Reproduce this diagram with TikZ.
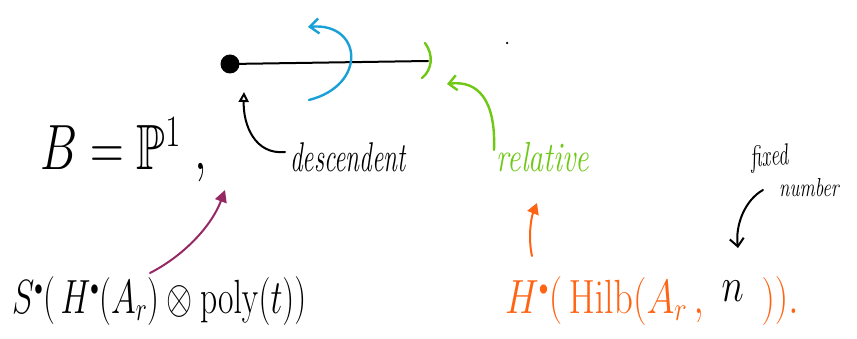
\RequirePackage{fix-cm}
\documentclass[tikz,border=0pt]{standalone}
\usepackage{amssymb}
\usepackage{graphicx}
\usetikzlibrary{arrows.meta}
\definecolor{hblue}{RGB}{25,160,215}
\definecolor{hgreen}{RGB}{110,200,20}
\definecolor{horange}{RGB}{255,100,20}
\definecolor{hpurple}{RGB}{150,40,100}
\newcommand{\hdot}{{\scriptscriptstyle\bullet}}
\tikzset{
  pen/.style={line width=2pt, line cap=round},
  formula/.style={inner sep=0pt},
}
\begin{document}
\begin{tikzpicture}[x=1pt,y=-1pt]
\useasboundingbox (0,0) rectangle (857,339);
% line with dot
\node (dot) [circle, fill=black, inner sep=0pt, minimum size=19pt] at (230,64) {};
\coordinate (lineEnd) at (428,61);
\draw[pen] (dot.center) -- (lineEnd);
% blue arrow
\coordinate (bS) at (309,100);
\coordinate (bE) at (308,27);
\draw[pen, hblue, line width=2.4pt, -{Straight Barb[length=9pt,width=15pt]}] (bS) .. controls (368,85) and (362,22) .. (bE);
% green bracket
\coordinate (gb1) at (425,43);
\coordinate (gb2) at (422,78);
\draw[pen, hgreen, line width=2.4pt] (gb1) .. controls (434,55) and (432,70) .. (gb2);
% small dot
\node (speck) [circle, fill=black, inner sep=0pt, minimum size=2.5pt] at (507,43) {};
% texts
\node (B) [formula, anchor=base west] at (40,170) {\scalebox{0.73}[1]{\fontsize{64}{70}\selectfont $B = \mathbb{P}^1\ ,$}};
\node (desc) [formula, anchor=base] at (348,172) {\scalebox{0.97}[1.6]{\fontsize{26}{30}\selectfont\itshape descendent}};
\node (rel) [formula, text=hgreen, anchor=base] at (543,172) {\scalebox{1}[1.4]{\fontsize{30}{34}\selectfont\itshape relative}};
\node (fixed) [formula, rotate=6, anchor=base] at (770,166) {\scalebox{1}[1.5]{\fontsize{20}{24}\selectfont\itshape fixed}};
\node (number) [formula, anchor=base] at (809,197) {\scalebox{0.95}[1.3]{\fontsize{20}{24}\selectfont\itshape number}};
\node (S) [formula, anchor=base west] at (12,313) {\scalebox{0.7}[1]{\fontsize{48}{54}\selectfont $S^{\hdot}\bigl(\,H^{\hdot}(A_r)\otimes \mathrm{poly}(t)\bigr)$}};
\node (Hilb) [formula, text=horange, anchor=base west] at (505,313) {\scalebox{0.79}[1]{\fontsize{48}{54}\selectfont $H^{\hdot}\bigl(\,\mathrm{Hilb}(A_r\,,\ {\color{black}\raisebox{12pt}{$n$}}\ \,)\bigr).$}};
% arrows
\draw[pen, -{Triangle[open,length=10pt,width=10pt]}] (285,152) .. controls (255,155) and (243,125) .. (244,92);
\draw[pen, hpurple, -{Triangle[length=12pt,width=12pt]}] (150,273) .. controls (185,255) and (212,225) .. (225,190);
\draw[pen, hgreen, line width=2.4pt, -{Straight Barb[length=8pt,width=15pt]}] (494,150) .. controls (496,100) and (478,80) .. (447,84);
\draw[pen, horange, -{Triangle[length=11pt,width=12pt]}] (532,256) .. controls (528,238) and (531,218) .. (537,203);
\draw[pen, -{Straight Barb[length=8pt,width=14pt]}] (763,190) .. controls (745,200) and (735,225) .. (738,248);
\end{tikzpicture}
\end{document}
